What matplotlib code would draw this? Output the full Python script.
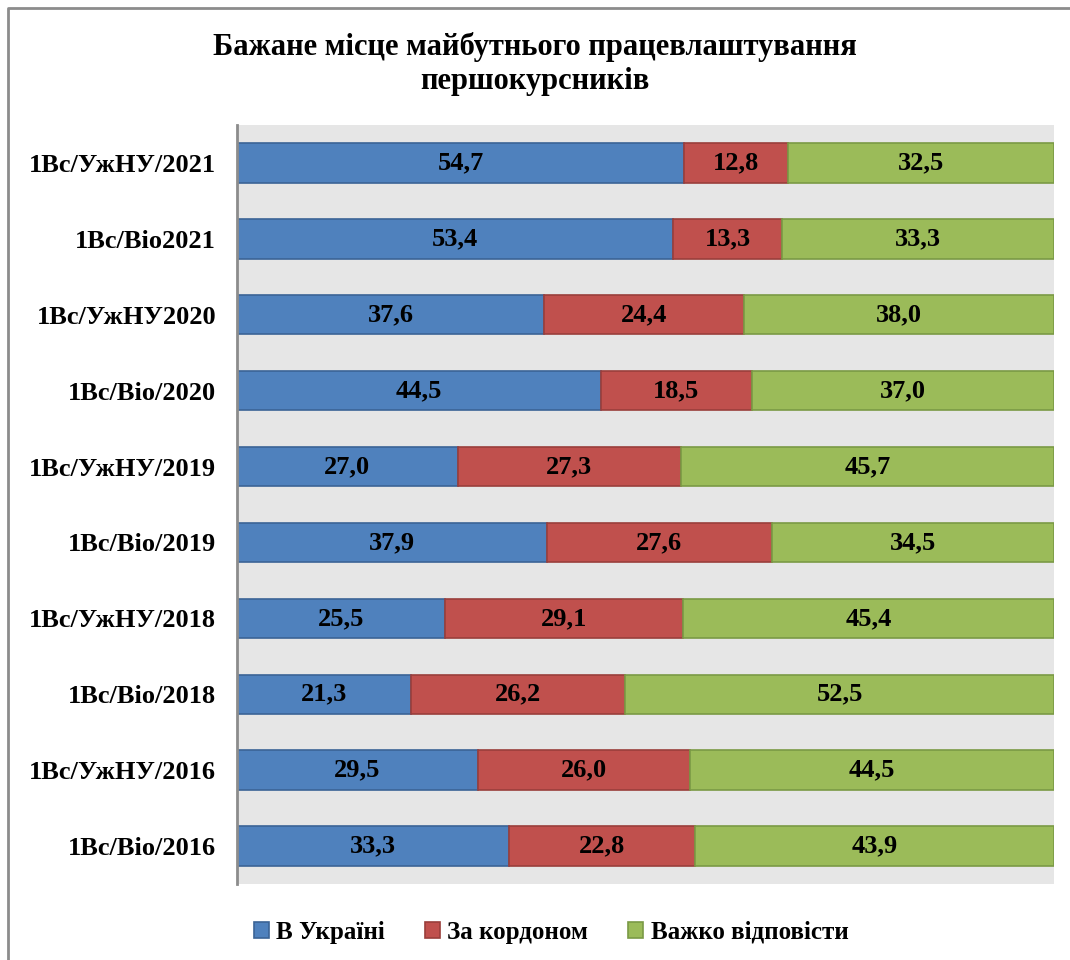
import matplotlib.pyplot as plt
from matplotlib.lines import Line2D

plt.rcParams['font.family'] = ['Liberation Serif', 'DejaVu Serif']
plt.rcParams['font.weight'] = 'bold'

groups = ['1Вс/УжНУ/2021', '1Вс/Віо2021', '1Вс/УжНУ2020', '1Вс/Віо/2020',
          '1Вс/УжНУ/2019', '1Вс/Віо/2019', '1Вс/УжНУ/2018', '1Вс/Віо/2018',
          '1Вс/УжНУ/2016', '1Вс/Віо/2016']
ukraine = [54.7, 53.4, 37.6, 44.5, 27.0, 37.9, 25.5, 21.3, 29.5, 33.3]
abroad = [12.8, 13.3, 24.4, 18.5, 27.3, 27.6, 29.1, 26.2, 26.0, 22.8]
hard = [32.5, 33.3, 38.0, 37.0, 45.7, 34.5, 45.4, 52.5, 44.5, 43.9]

series = ['В Україні', 'За кордоном', 'Важко відповісти']
colors = ['#4F81BD', '#C0504D', '#9BBB59']
edges = ['#3B6496', '#9A3E3B', '#7A9A45']

fig = plt.figure(figsize=(10.7, 9.6), dpi=100)
ax = fig.add_axes([237 / 1070, 1 - 884 / 960, (1054 - 237) / 1070, (884 - 125) / 960])
ax.set_facecolor('#E6E6E6')

y = list(range(len(groups)))
left = [0] * len(groups)
for vals, name, c, ec in zip([ukraine, abroad, hard], series, colors, edges):
    bars = ax.barh(y, vals, left=left, height=0.52, color=c, edgecolor=ec,
                   linewidth=1.2, label=name)
    labels = [f'{v:.1f}'.replace('.', ',') for v in vals]
    ax.bar_label(bars, labels=labels, label_type='center', fontsize=19,
                 fontweight='bold', color='black')
    left = [a + b for a, b in zip(left, vals)]

ax.set_xlim(0, 100)
ax.set_ylim(len(groups) - 0.5, -0.5)
ax.set_yticks(y)
ax.set_yticklabels(groups, fontsize=19, fontweight='bold')
ax.set_xticks([])
ax.tick_params(axis='y', length=0, pad=15)
for s in ['top', 'right', 'bottom']:
    ax.spines[s].set_visible(False)
ax.spines['left'].set_color('#8C8C8C')
ax.spines['left'].set_linewidth(2)

fig.text(0.5, 1 - 47 / 960, 'Бажане місце майбутнього працевлаштування',
         ha='center', va='center', fontsize=22, fontweight='bold')
fig.text(0.5, 1 - 82 / 960, 'першокурсників',
         ha='center', va='center', fontsize=22, fontweight='bold')

handles, lbls = ax.get_legend_handles_labels()
fig.legend(handles, lbls, loc='center', bbox_to_anchor=(0.515, 1 - 932 / 960),
           ncol=3, frameon=False, fontsize=18, handlelength=0.6, handleheight=0.6,
           handletextpad=0.3, columnspacing=1.6)

fig.add_artist(Line2D([8 / 1070, 8 / 1070, 1], [0, 1 - 8 / 960, 1 - 8 / 960],
                      transform=fig.transFigure, color='#8C8C8C', linewidth=2))

fig.savefig('out.png', dpi=100)
